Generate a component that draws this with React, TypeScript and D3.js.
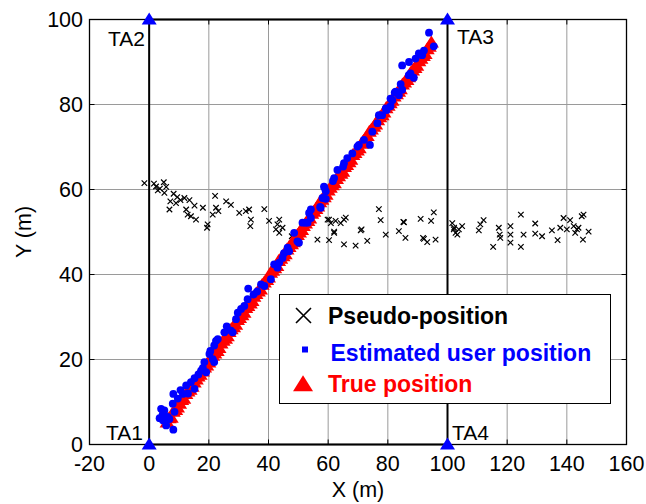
import React from "react";
import * as d3 from "d3";

const xTicks = [-20, 0, 20, 40, 60, 80, 100, 120, 140, 160];
const yTicks = [0, 20, 40, 60, 80, 100];

const anchorNames = ["TA1", "TA2", "TA3", "TA4"];
const anchorX = [0, 0, 100, 100];
const anchorY = [0, 100, 100, 0];

const pseudoX = [-1.6, 1.6, 2.3, 4.9, 5.7, 2.9, 5.1, 9.4, 7.1, 10.5, 11.8, 13.5, 6.8, 9.0, 12.4, 15.2, 18.0, 14.0, 15.7, 12.9, 19.6, 19.4, 22.1, 22.4, 21.3, 23.2, 25.8, 27.4, 30.2, 32.4, 33.5, 34.1, 33.9, 38.6, 40.2, 43.0, 43.6, 42.5, 44.7, 43.6, 47.8, 59.8, 60.9, 62.5, 65.3, 65.9, 64.2, 62.0, 56.4, 60.3, 65.3, 69.2, 73.1, 70.9, 77.0, 77.6, 79.3, 83.7, 85.4, 85.9, 91.0, 92.1, 93.2, 94.5, 95.4, 96.0, 101.6, 102.2, 102.7, 103.8, 104.9, 103.3, 110.5, 111.0, 112.1, 115.3, 117.2, 117.5, 117.7, 121.1, 121.1, 121.1, 124.6, 125.5, 124.6, 129.4, 129.4, 131.7, 135.0, 136.9, 138.9, 137.8, 140.0, 141.1, 142.3, 143.4, 142.8, 143.9, 145.0, 145.6, 147.3, 145.4, 60.3, 62.0, 71.2, 85.2, 91.8, 102.1, 3.6, 8.2];
const pseudoY = [61.5, 61.4, 60.7, 61.7, 60.6, 59.8, 59.2, 58.2, 57.2, 57.5, 58.0, 57.5, 55.3, 56.8, 55.3, 56.2, 55.7, 53.7, 52.9, 54.1, 51.8, 51.0, 58.5, 55.7, 54.1, 54.9, 57.2, 56.4, 54.5, 54.9, 55.3, 52.9, 51.4, 55.4, 52.6, 51.8, 52.9, 50.6, 51.0, 49.8, 49.0, 52.9, 52.1, 52.6, 52.9, 53.4, 52.1, 50.1, 48.2, 48.1, 47.1, 46.8, 47.9, 50.4, 55.4, 52.8, 49.4, 50.2, 52.3, 48.6, 53.1, 48.4, 47.6, 52.6, 54.6, 48.2, 52.1, 51.0, 49.8, 50.6, 51.4, 49.4, 50.4, 51.8, 52.8, 46.5, 51.0, 49.4, 48.6, 51.4, 49.4, 47.5, 54.1, 49.4, 46.5, 52.0, 49.6, 49.0, 50.4, 48.1, 53.3, 51.0, 50.6, 52.8, 51.4, 50.6, 49.8, 51.0, 53.7, 54.1, 50.1, 48.2, 52.9, 49.8, 50.6, 52.4, 48.6, 50.6, 60.2, 59.0];

const trueX = [6.0, 7.4, 8.9, 10.2, 11.6, 13.0, 14.4, 15.8, 17.1, 18.6, 20.0, 21.3, 22.8, 24.1, 25.6, 26.8, 28.3, 29.6, 31.1, 32.4, 33.9, 35.1, 36.6, 37.9, 39.4, 40.7, 42.1, 43.4, 44.9, 46.2, 47.7, 49.0, 50.4, 51.7, 53.2, 54.5, 55.9, 57.2, 58.7, 60.0, 61.4, 62.8, 64.3, 65.5, 67.0, 68.3, 69.8, 71.1, 72.5, 73.8, 75.3, 76.6, 78.1, 79.4, 80.8, 82.1, 83.6, 84.9, 86.4, 87.6, 89.1, 90.4, 91.9, 93.2, 94.6,
  6.7, 8.1, 9.5, 10.9, 12.3, 13.7, 15.1, 16.4, 17.9, 19.3, 20.6, 22.0, 23.4, 24.8, 26.2, 27.5, 29.0, 30.3, 31.8, 33.1, 34.5, 35.8, 37.3, 38.6, 40.0, 41.4, 42.8, 44.1, 45.6, 46.9, 48.3, 49.7, 51.1, 52.4, 53.8, 55.2, 56.5, 57.9, 59.3, 60.7, 62.1, 63.5, 64.9, 66.2, 67.6, 69.0, 70.4, 71.8, 73.1, 74.5, 75.9, 77.3, 78.7, 80.1, 81.4, 82.9, 84.2, 85.6, 87.0, 88.3, 89.7, 91.1, 92.5, 93.9];
const trueY = [5.2, 6.3, 8.1, 9.6, 10.8, 12.5, 13.6, 15.3, 16.4, 18.1, 19.3, 20.9, 22.0, 23.8, 24.9, 26.5, 27.6, 29.3, 30.4, 32.1, 33.2, 34.8, 36.0, 37.6, 38.7, 40.4, 41.5, 43.2, 44.3, 45.9, 47.1, 48.7, 49.9, 51.4, 52.6, 54.3, 55.4, 57.0, 58.2, 59.8, 61.0, 62.5, 63.7, 65.3, 66.4, 68.1, 69.2, 70.8, 72.0, 73.6, 74.8, 76.3, 77.5, 79.1, 80.3, 81.9, 83.0, 84.7, 85.8, 87.4, 88.6, 90.2, 91.4, 93.0, 94.6,
  6.2, 7.7, 8.7, 10.5, 11.9, 12.9, 14.6, 16.0, 17.2, 18.6, 20.3, 21.4, 22.7, 24.4, 25.5, 27.1, 28.2, 29.8, 31.0, 32.6, 33.8, 35.4, 36.5, 38.1, 39.3, 40.9, 42.0, 43.7, 44.8, 46.5, 47.6, 49.3, 50.5, 52.0, 53.2, 54.8, 56.0, 57.6, 58.8, 60.4, 61.5, 63.1, 64.2, 65.8, 67.0, 68.6, 69.7, 71.4, 72.6, 74.1, 75.3, 77.0, 78.1, 79.7, 80.9, 82.4, 83.6, 85.2, 86.4, 88.0, 89.1, 90.8, 91.9, 93.6];

const estX = [3.5, 4.6, 5.7, 4.0, 5.1, 6.2, 8.1, 7.9, 8.5, 8.1, 9.6, 11.3, 12.4, 14.0, 15.2, 15.2, 17.4, 18.5, 19.1, 20.2, 21.3, 21.8, 22.4, 23.0, 21.8, 25.2, 27.4, 28.0, 29.1, 30.8, 31.9, 33.0, 33.2, 37.5, 38.6, 40.8, 41.9, 43.0, 43.6, 44.7, 46.4, 46.9, 48.6, 49.7, 50.2, 51.4, 53.1, 53.6, 54.2, 57.5, 57.3, 58.1, 59.2, 58.6, 59.2, 58.8, 61.6, 62.0, 63.1, 65.0, 65.3, 66.4, 68.1, 69.8, 70.3, 72.0, 74.0, 74.8, 76.5, 77.0, 78.1, 79.3, 79.6, 80.9, 80.9, 81.5, 82.3, 82.6, 83.7, 84.8, 84.3, 87.0, 87.6, 88.7, 84.8, 87.1, 89.3, 90.4, 91.5, 92.1, 95.4, 93.8, 26.0, 29.7, 35.0, 36.2, 45.2, 4.5, 6.8, 10.5, 13.0, 16.5, 18.0, 20.5, 52.4, 54.2];
const estY = [6.2, 5.7, 4.5, 8.4, 8.0, 6.5, 3.5, 9.6, 7.7, 11.9, 10.8, 11.9, 13.9, 14.7, 13.1, 15.6, 17.4, 19.4, 17.0, 21.3, 20.1, 19.4, 24.4, 24.8, 23.3, 26.4, 26.8, 26.4, 29.5, 31.9, 32.6, 34.2, 36.7, 37.7, 37.3, 38.9, 42.4, 41.6, 42.8, 43.9, 46.3, 45.5, 49.8, 47.8, 47.5, 52.2, 52.2, 54.5, 55.3, 55.7, 55.9, 58.0, 57.8, 60.7, 59.6, 60.4, 62.0, 62.7, 64.6, 65.4, 66.2, 67.4, 68.5, 70.1, 70.5, 71.7, 70.5, 73.6, 75.6, 77.5, 77.5, 79.1, 78.7, 79.6, 81.4, 81.0, 82.8, 83.0, 82.2, 83.5, 84.8, 86.9, 87.3, 86.3, 89.2, 90.0, 90.8, 92.0, 91.6, 92.7, 93.7, 96.9, 27.8, 31.0, 35.3, 36.0, 45.0, 7.0, 6.0, 12.8, 12.0, 16.5, 18.0, 22.0, 52.2, 53.3];

const W = 646;
const H = 504;
const left = 89.5;
const right = 626.5;
const top = 19.5;
const bottom = 444.5;
const FONT = "'Liberation Sans', Arial, sans-serif";

export default function App() {
  const x = d3.scaleLinear().domain([-20, 160]).range([left, right]);
  const y = d3.scaleLinear().domain([0, 100]).range([bottom, top]);
  const tri = (s: number, h: number) => `M0,${-h * 0.58}L${s / 2},${h * 0.42}L${-s / 2},${h * 0.42}Z`;
  const cross = (s: number) => `M${-s / 2},${-s / 2}L${s / 2},${s / 2}M${-s / 2},${s / 2}L${s / 2},${-s / 2}`;

  const lx = 279.5, ly = 294.5, lw = 331, lh = 109;

  return (
    <svg width={W} height={H} style={{ position: "absolute", left: 0, top: 0, background: "#fff" }} fontFamily={FONT}>
      <rect x={0} y={0} width={W} height={H} fill="#fff" />
      {xTicks.slice(1, -1).map((t) => (
        <line key={"gx" + t} x1={x(t)} x2={x(t)} y1={top} y2={bottom} stroke="#9a9a9a" strokeWidth={1} />
      ))}
      {yTicks.slice(1, -1).map((t) => (
        <line key={"gy" + t} x1={left} x2={right} y1={y(t)} y2={y(t)} stroke="#9a9a9a" strokeWidth={1} />
      ))}
      {xTicks.map((t) => (
        <g key={"tx" + t}>
          <line x1={x(t)} x2={x(t)} y1={bottom} y2={bottom - 5} stroke="#000" />
          <line x1={x(t)} x2={x(t)} y1={top} y2={top + 5} stroke="#000" />
          <text x={x(t)} y={471} textAnchor="middle" fontSize={21.5} fill="#000">{t}</text>
        </g>
      ))}
      {yTicks.map((t) => (
        <g key={"ty" + t}>
          <line x1={left} x2={left + 5} y1={y(t)} y2={y(t)} stroke="#000" />
          <line x1={right} x2={right - 5} y1={y(t)} y2={y(t)} stroke="#000" />
          <text x={83} y={y(t)} dy="0.36em" textAnchor="end" fontSize={21.5} fill="#000">{t}</text>
        </g>
      ))}
      <rect x={x(0)} y={y(100)} width={x(100) - x(0)} height={y(0) - y(100)} fill="none" stroke="#000" strokeWidth={2} />
      <rect x={left} y={top} width={right - left} height={bottom - top} fill="none" stroke="#000" strokeWidth={1.3} />
      {pseudoX.map((px, i) => (
        <path key={"p" + i} d={cross(5.5)} transform={`translate(${x(px)},${y(pseudoY[i])})`} stroke="#000" strokeWidth={1.2} fill="none" />
      ))}
      {trueX.map((tx, i) => (
        <path key={"t" + i} d={tri(15, 12)} transform={`translate(${x(tx)},${y(trueY[i])})`} fill="#ff0000" />
      ))}
      {estX.map((ex, i) => (
        <circle key={"e" + i} cx={x(ex)} cy={y(estY[i])} r={3.9} fill="#0000ff" />
      ))}
      {anchorX.map((ax, i) => (
        <path key={"a" + i} d={tri(15, 12)} transform={`translate(${x(ax)},${y(anchorY[i])})`} fill="#0000ff" />
      ))}
      <text x={143} y={440} textAnchor="end" fontSize={21} fill="#000">{anchorNames[0]}</text>
      <text x={145} y={46} textAnchor="end" fontSize={21} fill="#000">{anchorNames[1]}</text>
      <text x={457} y={44} textAnchor="start" fontSize={21} fill="#000">{anchorNames[2]}</text>
      <text x={452} y={440} textAnchor="start" fontSize={21} fill="#000">{anchorNames[3]}</text>
      <rect x={lx} y={ly} width={lw} height={lh} fill="#fff" stroke="#000" strokeWidth={1} />
      <path d={cross(15)} transform="translate(303.5,315.5)" stroke="#000" strokeWidth={1.6} fill="none" />
      <text x={328} y={324} fontSize={23} fontWeight="bold" fill="#000">Pseudo-position</text>
      <rect x={302} y={346.5} width={6} height={6} fill="#0000ff" />
      <text x={330.5} y={360.5} fontSize={23} fontWeight="bold" fill="#0000ff">Estimated user position</text>
      <path d={tri(20, 16)} transform="translate(303,384.5)" fill="#ff0000" />
      <text x={328} y={391.5} fontSize={23} fontWeight="bold" fill="#ff0000">True position</text>
      <text x={(left + right) / 2} y={497} textAnchor="middle" fontSize={21.5} fill="#000">X (m)</text>
      <text transform={`translate(31,${(top + bottom) / 2}) rotate(-90)`} textAnchor="middle" fontSize={21.5} fill="#000">Y (m)</text>
    </svg>
  );
}
